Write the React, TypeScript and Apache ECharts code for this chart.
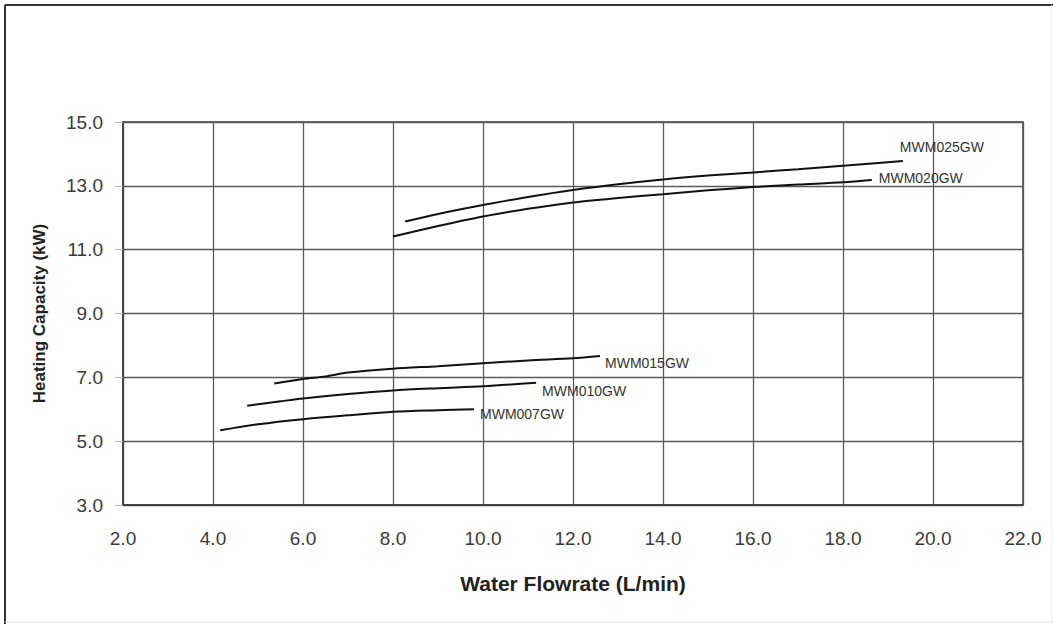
import React, { useEffect, useRef } from "react";
import * as echarts from "echarts";

const xTicks = [2, 4, 6, 8, 10, 12, 14, 16, 18, 20, 22];
const yTicks = [3, 5, 7, 9, 11, 13, 15];

const seriesNames = ["MWM007GW", "MWM010GW", "MWM015GW", "MWM020GW", "MWM025GW"];

const mwm007: [number, number][] = [
  [4.16, 5.34], [5.0, 5.53], [6.0, 5.69], [7.0, 5.81], [8.0, 5.92], [9.0, 5.97], [9.8, 6.0],
];
const mwm010: [number, number][] = [
  [4.76, 6.11], [5.5, 6.25], [6.0, 6.34], [7.0, 6.48], [8.0, 6.59], [9.0, 6.66], [10.0, 6.72], [11.18, 6.83],
];
const mwm015: [number, number][] = [
  [5.36, 6.81], [6.0, 6.95], [6.5, 7.03], [7.0, 7.15], [8.0, 7.27], [9.0, 7.35], [10.0, 7.44], [11.0, 7.53], [12.0, 7.6], [12.6, 7.67],
];
const mwm020: [number, number][] = [
  [8.0, 11.41], [9.0, 11.74], [10.0, 12.04], [11.0, 12.28], [12.0, 12.48], [13.0, 12.62], [14.0, 12.74], [15.0, 12.86], [16.0, 12.96], [17.0, 13.04], [18.0, 13.11], [18.64, 13.18],
];
const mwm025: [number, number][] = [
  [8.27, 11.88], [9.0, 12.12], [10.0, 12.4], [11.0, 12.65], [12.0, 12.87], [13.0, 13.05], [14.0, 13.2], [15.0, 13.32], [16.0, 13.42], [17.0, 13.52], [18.0, 13.63], [19.33, 13.78],
];

const seriesData = [mwm007, mwm010, mwm015, mwm020, mwm025];
const labelOffsets: [number, number][] = [[1, 5], [1, 8], [0, 7], [2, -2], [-8, -14]];

export default function App() {
  const ref = useRef<HTMLDivElement>(null);
  useEffect(() => {
    document.body.style.margin = "0";
    const chart = echarts.init(ref.current!, null, { renderer: "svg" });
    const font = "'Liberation Sans', Arial, sans-serif";
    chart.setOption({
      animation: false,
      backgroundColor: "#ffffff",
      grid: {
        left: 123,
        top: 122,
        right: 30,
        bottom: 119,
        show: true,
        borderColor: "#3a3a3a",
        borderWidth: 1.5,
        containLabel: false,
      },
      graphic: [
        { type: "line", shape: { x1: 5, y1: 5, x2: 1053, y2: 5 }, style: { stroke: "#333", lineWidth: 2 } },
        { type: "line", shape: { x1: 5, y1: 5, x2: 5, y2: 624 }, style: { stroke: "#333", lineWidth: 2 } },
        { type: "line", shape: { x1: 5, y1: 622, x2: 1053, y2: 622 }, style: { stroke: "#e4e4e4", lineWidth: 1 } },
        { type: "line", shape: { x1: 1051.5, y1: 5, x2: 1051.5, y2: 624 }, style: { stroke: "#eeeeee", lineWidth: 1 } },
      ],
      xAxis: {
        type: "value",
        min: xTicks[0],
        max: xTicks[xTicks.length - 1],
        interval: 2,
        name: "Water Flowrate (L/min)",
        nameLocation: "middle",
        nameGap: 68,
        nameTextStyle: { fontFamily: font, fontSize: 21, fontWeight: "bold", color: "#222" },
        axisLine: { show: true, lineStyle: { color: "#3a3a3a", width: 1.5 } },
        axisTick: { show: false },
        axisLabel: {
          margin: 24,
          fontFamily: font,
          fontSize: 19,
          color: "#3a3a3a",
          formatter: (v: number) => v.toFixed(1),
        },
        splitLine: { show: true, lineStyle: { color: "#5a5a5a", width: 1.3 } },
      },
      yAxis: {
        type: "value",
        min: yTicks[0],
        max: yTicks[yTicks.length - 1],
        interval: 2,
        name: "Heating Capacity (kW)",
        nameLocation: "middle",
        nameGap: 75,
        nameTextStyle: { fontFamily: font, fontSize: 17, fontWeight: "bold", color: "#222" },
        axisLine: { show: true, lineStyle: { color: "#3a3a3a", width: 1.5 } },
        axisTick: { show: true, length: 8, lineStyle: { color: "#bbb" } },
        axisLabel: {
          margin: 20,
          fontFamily: font,
          fontSize: 19,
          color: "#3a3a3a",
          formatter: (v: number) => v.toFixed(1),
        },
        splitLine: { show: true, lineStyle: { color: "#5a5a5a", width: 1.3 } },
      },
      series: seriesData.map((d, i) => ({
        name: seriesNames[i],
        type: "line",
        data: d,
        smooth: 0.3,
        showSymbol: false,
        lineStyle: { color: "#111", width: 2 },
        endLabel: {
          show: true,
          formatter: seriesNames[i],
          fontFamily: font,
          fontSize: 14,
          color: "#333",
          distance: 5,
          offset: labelOffsets[i],
        },
      })),
    });
    return () => chart.dispose();
  }, []);
  return (
    <div
      ref={ref}
      style={{ position: "absolute", left: 0, top: 0, width: 1053, height: 624 }}
    />
  );
}
